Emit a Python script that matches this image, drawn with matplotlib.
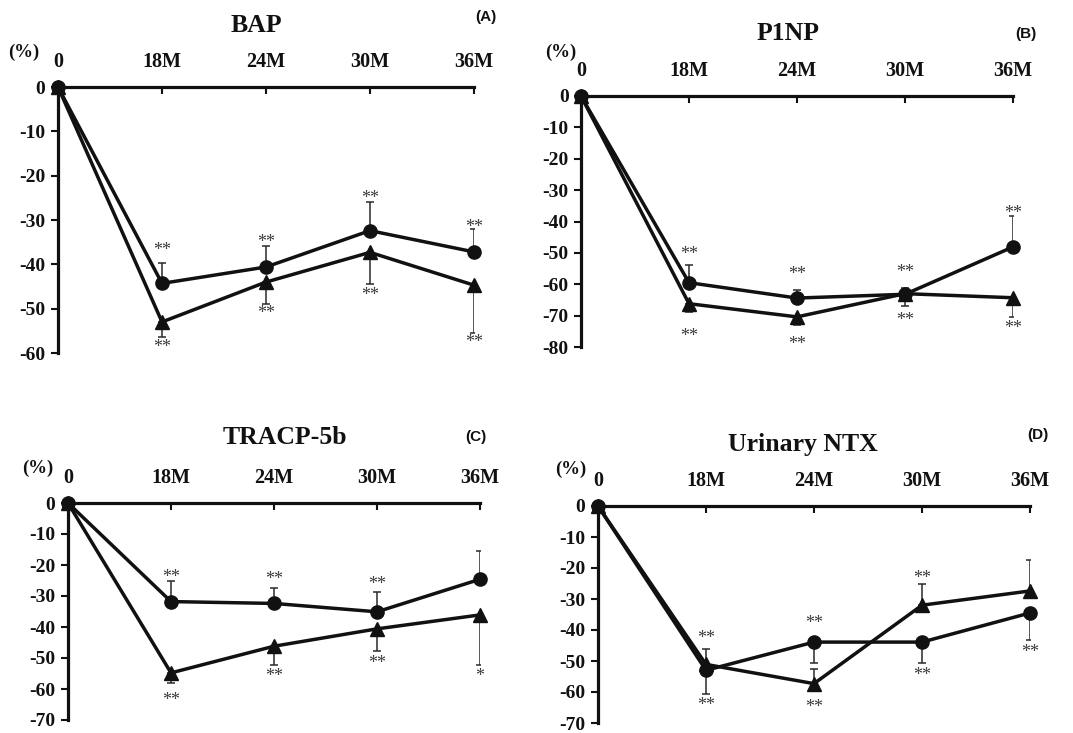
import numpy as np
import matplotlib
matplotlib.use('Agg')
import matplotlib.pyplot as plt

W, H = 1073, 733

months = ['0', '18M', '24M', '30M', '36M']

# (A) BAP
bap_circle = [0, -44.3, -40.6, -32.4, -37.2]
bap_circle_err = [0, 4.6, 4.8, 6.5, 5.1]
bap_tri = [0, -53.0, -44.0, -37.3, -44.7]
bap_tri_err = [0, 3.5, 4.9, 7.2, 10.8]
bap_stars = [(1, -36.2, '**'), (1, -57.9, '**'), (2, -34.2, '**'), (2, -50.3, '**'),
             (3, -24.3, '**'), (3, -46.2, '**'), (4, -30.8, '**'), (4, -56.9, '**')]

# (B) P1NP
p1np_circle = [0, -59.5, -64.4, -63.2, -48.1]
p1np_circle_err = [0, 5.5, 2.5, 2.0, 9.8]
p1np_tri = [0, -66.2, -70.4, -63.0, -64.3]
p1np_tri_err = [0, 2.6, 2.5, 3.9, 6.1]
p1np_stars = [(1, -49.4, '**'), (1, -75.5, '**'), (2, -55.8, '**'), (2, -78.1, '**'),
              (3, -55.0, '**'), (3, -70.5, '**'), (4, -36.2, '**'), (4, -72.9, '**')]

# (C) TRACP-5b
tracp_circle = [0, -31.8, -32.4, -35.1, -24.6]
tracp_circle_err = [0, 6.7, 5.1, 6.4, 9.0]
tracp_tri = [0, -54.8, -46.2, -40.6, -36.1]
tracp_tri_err = [0, 3.4, 6.2, 7.2, 16.2]
tracp_stars = [(1, -22.8, '**'), (1, -62.5, '**'), (2, -23.6, '**'), (2, -55.0, '**'),
               (3, -25.1, '**'), (3, -50.7, '**'), (4, -55.0, '*')]

# (D) Urinary NTX
ntx_circle = [0, -53.0, -43.9, -43.9, -34.5]
ntx_circle_err = [0, 7.5, 6.7, 6.6, 8.8]
ntx_tri = [0, -51.1, -57.3, -32.0, -27.4]
ntx_tri_err = [0, 5.0, 4.6, 7.0, 10.0]
ntx_stars = [(1, -41.7, '**'), (1, -63.2, '**'), (2, -36.7, '**'), (2, -64.0, '**'),
             (3, -22.4, '**'), (3, -53.5, '**'), (4, -46.0, '**')]

serif = ['Liberation Serif', 'DejaVu Serif']
sans = ['Liberation Sans', 'DejaVu Sans']


def px(x, y):
    return x / W, 1 - y / H


def draw_panel(ax, circ, circ_err, circ_up, tri, tri_err, tri_up, stars, ymin):
    x = np.arange(len(months))
    zeros = np.zeros(len(months) - 1)
    ce = np.array(circ_err[1:])
    te = np.array(tri_err[1:])
    c_yerr = [zeros, ce] if circ_up else [ce, zeros]
    t_yerr = [zeros, te] if tri_up else [te, zeros]
    ekw = dict(fmt='none', ecolor='#2a2a2a', elinewidth=1.1, capsize=3.2, capthick=1.1, zorder=2)
    ax.errorbar(x[1:], circ[1:], yerr=c_yerr, **ekw)
    ax.errorbar(x[1:], tri[1:], yerr=t_yerr, **ekw)
    ax.plot(x, tri, color='#111111', lw=2.5, marker='^', ms=10.5, clip_on=False, zorder=3)
    ax.plot(x, circ, color='#111111', lw=2.5, marker='o', ms=9.5, clip_on=False, zorder=4)
    # asterisks sit high in the glyph box, nudge them down a little
    for i, y, s in stars:
        ax.annotate(s, (x[i], y), xytext=(0, -2.5), textcoords='offset points',
                    ha='center', va='center', fontsize=13, color='#3a3a3a', family=serif)

    ax.set_xlim(0, len(months) - 1)
    ax.set_ylim(ymin, 0)
    for side in ['right', 'bottom']:
        ax.spines[side].set_visible(False)
    for side in ['left', 'top']:
        ax.spines[side].set_linewidth(2.3)
        ax.spines[side].set_color('#111111')
    ax.xaxis.tick_top()
    ax.set_xticks(x)
    ax.set_xticklabels(months, family=serif, fontweight='bold', fontsize=14.5)
    ax.tick_params(axis='x', direction='in', length=5, width=1.5, pad=11, colors='#111111')
    yt = np.arange(0, ymin - 1, -10)
    ax.set_yticks(yt)
    ax.set_yticklabels([str(int(v)) for v in yt], family=serif, fontweight='bold', fontsize=14)
    ax.tick_params(axis='y', direction='out', length=5, width=1.5, pad=4, colors='#111111')
    ax.patch.set_visible(False)


fig = plt.figure(figsize=(W / 100, H / 100), dpi=100)

panels = [
    # axes box in pixels: left, top, right, bottom
    ((58, 87, 474, 353), bap_circle, bap_circle_err, True, bap_tri, bap_tri_err, False, bap_stars, -60),
    ((581, 96, 1013, 347), p1np_circle, p1np_circle_err, True, p1np_tri, p1np_tri_err, False, p1np_stars, -80),
    ((68, 503, 480, 720), tracp_circle, tracp_circle_err, True, tracp_tri, tracp_tri_err, False, tracp_stars, -70),
    ((598, 506, 1030, 723), ntx_circle, ntx_circle_err, False, ntx_tri, ntx_tri_err, True, ntx_stars, -70),
]

for box, c, ce, cu, t, te, tu, st, ymin in panels:
    l, tp, r, b = box
    ax = fig.add_axes([l / W, 1 - b / H, (r - l) / W, (b - tp) / H])
    draw_panel(ax, c, ce, cu, t, te, tu, st, ymin)

titles = [('BAP', 256, 25), ('P1NP', 788, 34), ('TRACP-5b', 285, 437), ('Urinary NTX', 803, 445)]
for s, x, y in titles:
    fig.text(*px(x, y), s, ha='center', va='center', family=serif, fontweight='bold',
             fontsize=18.5, color='#111111')

letters = [('(A)', 486, 17), ('(B)', 1026, 34), ('(C)', 476, 437), ('(D)', 1038, 435)]
for s, x, y in letters:
    fig.text(*px(x, y), s, ha='center', va='center', family=sans, fontweight='bold',
             fontsize=11, color='#111111')

pct = [(24, 52), (561, 52), (38, 468), (571, 469)]
for x, y in pct:
    fig.text(*px(x, y), '(%)', ha='center', va='center', family=serif, fontweight='bold',
             fontsize=13.5, color='#111111')

fig.savefig('out.png', dpi=100, facecolor='white')
